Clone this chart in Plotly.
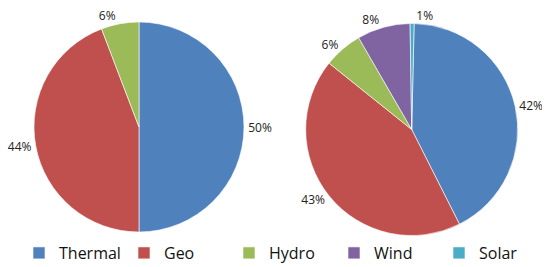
import plotly.graph_objects as go

categories = ["Thermal", "Geo", "Hydro", "Wind", "Solar"]
colors = ["#4F81BD", "#C0504D", "#9BBB59", "#8064A2", "#4BACC6"]
left_values = [50.0, 44.2, 5.8]
right_values = [42.2, 43.2, 5.9, 8.1, 0.6]

FONT = "Open Sans"
W, H = 542, 259  # page body adds an 8px margin

fig = go.Figure()
fig.add_trace(go.Pie(
    labels=categories[:3], values=left_values,
    marker=dict(colors=colors[:3], line=dict(color="white", width=0.6)),
    sort=False, direction="clockwise", rotation=0,
    textposition="outside", texttemplate="%{percent:.0%}",
    textfont=dict(family=FONT, size=12, color="#222"),
    domain=dict(x=[26 / W, 236 / W], y=[1 - 224 / H, 1 - 14 / H]),
    hoverinfo="label+percent", showlegend=True,
))
fig.add_trace(go.Pie(
    labels=categories, values=right_values,
    marker=dict(colors=colors, line=dict(color="white", width=0.6)),
    sort=False, direction="clockwise", rotation=1.3,
    textposition="outside", texttemplate="%{percent:.0%}",
    textfont=dict(family=FONT, size=12, color="#222"),
    domain=dict(x=[297.7 / W, 509.7 / W], y=[1 - 227.5 / H, 1 - 15.5 / H]),
    hoverinfo="label+percent", showlegend=True,
))

fig.update_layout(
    width=W, height=H,
    margin=dict(l=0, r=0, t=0, b=0, autoexpand=False),
    paper_bgcolor="white", plot_bgcolor="white",
    font=dict(family=FONT, color="#222"),
    legend=dict(
        orientation="h", x=11 / W, xanchor="left", y=1 - 228 / H, yanchor="top",
        font=dict(family=FONT, size=16, color="#111"),
        entrywidth=60, itemwidth=30, traceorder="normal",
        bgcolor="rgba(0,0,0,0)",
    ),
)

fig.write_html("out.html")
